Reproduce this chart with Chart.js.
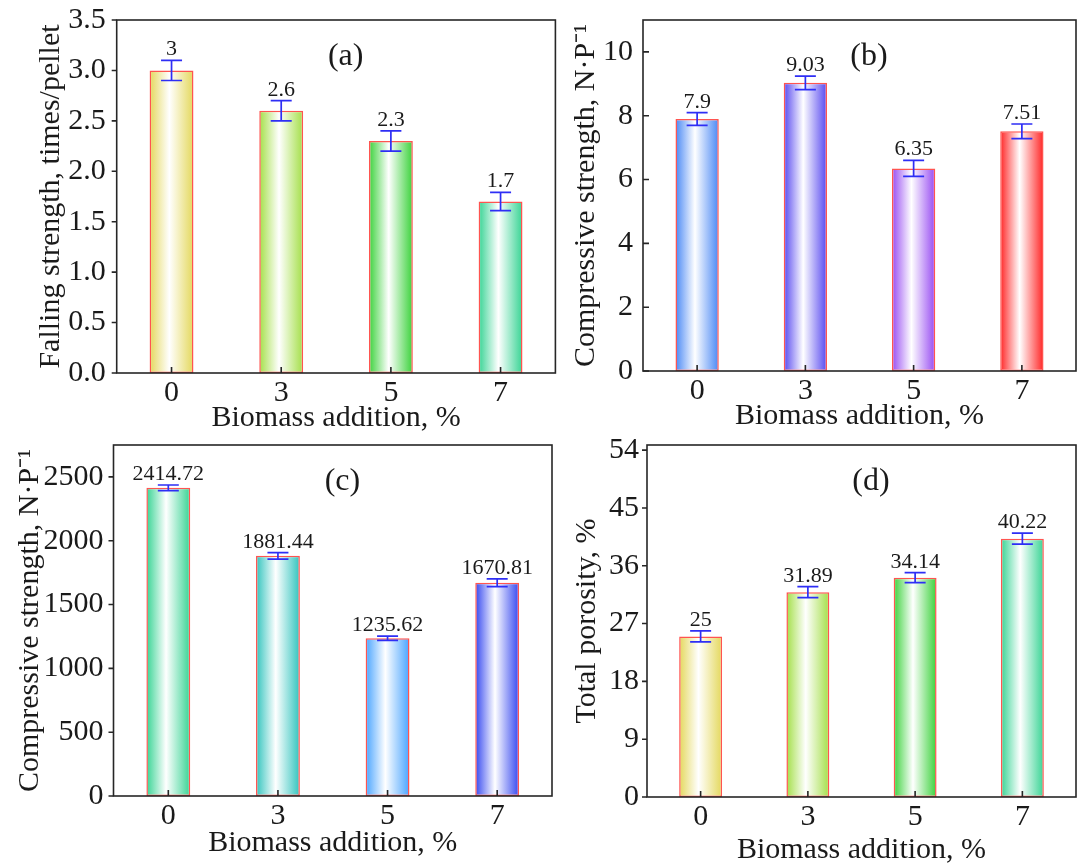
<!DOCTYPE html>
<html>
<head>
<meta charset="utf-8">
<script src="https://cdn.jsdelivr.net/npm/chart.js@4"></script>
<style>
  html, body { margin: 0; padding: 0; background: #fff; overflow: hidden; }
  body { width: 1077px; height: 866px; position: relative; }
  canvas { position: absolute; }
</style>
</head>
<body>
<canvas id="chart-a" width="560" height="440" style="left:0;top:0;width:560px;height:440px"></canvas>
<canvas id="chart-b" width="537" height="440" style="left:540px;top:0;width:537px;height:440px"></canvas>
<canvas id="chart-c" width="560" height="436" style="left:0;top:430px;width:560px;height:436px"></canvas>
<canvas id="chart-d" width="537" height="440" style="left:540px;top:430px;width:537px;height:440px"></canvas>
<script>
// categories (biomass addition, %)
const categories = ['0', '3', '5', '7'];

// (a) falling strength
const fallingStrength = [3, 2.6, 2.3, 1.7];
const fallingErr = [0.1, 0.1, 0.1, 0.09];
const ticksA = [0, 0.5, 1.0, 1.5, 2.0, 2.5, 3.0, 3.5];

// (b) compressive strength, green pellets
const compressiveB = [7.9, 9.03, 6.35, 7.51];
const compressiveBErr = [0.2, 0.21, 0.25, 0.23];
const ticksB = [0, 2, 4, 6, 8, 10];

// (c) compressive strength, roasted pellets
const compressiveC = [2414.72, 1881.44, 1235.62, 1670.81];
const compressiveCErr = [22, 26, 17, 30];
const ticksC = [0, 500, 1000, 1500, 2000, 2500];

// (d) total porosity
const porosity = [25, 31.89, 34.14, 40.22];
const porosityErr = [0.85, 0.85, 0.78, 0.85];
const ticksD = [0, 9, 18, 27, 36, 45, 54];

const FONT = 'Liberation Serif';
const TEXT = '#1a1a1a';
const BAR_PCT = 0.4;

const barFill = (ctx, color) => {
  if (ctx.type !== 'data') return color;
  const chart = ctx.chart;
  const xs = chart.scales.x;
  if (!chart.chartArea || !xs) return color;
  const cx = xs.getPixelForValue(ctx.dataIndex);
  const half = xs.width / categories.length * BAR_PCT / 2;
  const g = chart.ctx.createLinearGradient(cx - half, 0, cx + half, 0);
  g.addColorStop(0, color);
  g.addColorStop(0.45, '#ffffff');
  g.addColorStop(1, color);
  return g;
};

// frame, tick marks, error bars, value labels, panel letter
const makeExtras = (cfg) => ({
  id: 'extras',
  afterDatasetsDraw(chart) {
    const { ctx, chartArea: a } = chart;
    const xs = chart.scales.x, ys = chart.scales.y;
    ctx.save();
    ctx.strokeStyle = '#262626';
    ctx.lineWidth = 1.6;
    ctx.strokeRect(a.left, a.top, a.right - a.left, a.bottom - a.top);

    // y ticks
    ctx.beginPath();
    cfg.ticks.forEach(v => {
      const y = ys.getPixelForValue(v);
      if (cfg.yTickIn) { ctx.moveTo(a.left, y); ctx.lineTo(a.left + 6, y); }
      else { ctx.moveTo(a.left, y); ctx.lineTo(a.left - 5, y); }
    });
    // x ticks (inward)
    categories.forEach((c, i) => {
      const x = xs.getPixelForValue(i);
      ctx.moveTo(x, a.bottom);
      ctx.lineTo(x, a.bottom - 6);
    });
    ctx.stroke();

    // error bars
    ctx.strokeStyle = '#2e2ef5';
    ctx.lineWidth = 1.7;
    cfg.values.forEach((v, i) => {
      const x = xs.getPixelForValue(i);
      const y1 = ys.getPixelForValue(v - cfg.err[i]);
      const y2 = ys.getPixelForValue(v + cfg.err[i]);
      ctx.beginPath();
      ctx.moveTo(x, y1); ctx.lineTo(x, y2);
      ctx.moveTo(x - 10.5, y1); ctx.lineTo(x + 10.5, y1);
      ctx.moveTo(x - 10.5, y2); ctx.lineTo(x + 10.5, y2);
      ctx.stroke();
    });

    // value labels
    ctx.fillStyle = TEXT;
    ctx.font = '22px "' + FONT + '"';
    ctx.textAlign = 'center';
    ctx.textBaseline = 'alphabetic';
    cfg.values.forEach((v, i) => {
      const x = xs.getPixelForValue(i);
      const y = ys.getPixelForValue(v + cfg.err[i]) - 5;
      ctx.fillText(String(v), x, y);
    });

    // panel letter
    ctx.font = '32px "' + FONT + '"';
    ctx.textBaseline = 'middle';
    ctx.fillText(cfg.letter, a.left + (a.right - a.left) * 0.522, a.top + 37);
    ctx.restore();
  }
});

const makePanel = (id, cfg) => {
  const font = { family: FONT, size: 30 };
  new Chart(document.getElementById(id), {
    type: 'bar',
    data: {
      labels: categories,
      datasets: [{
        data: cfg.values,
        backgroundColor: ctx => barFill(ctx, cfg.colors[ctx.dataIndex]),
        borderColor: '#ff5450',
        borderWidth: 1.5,
        borderSkipped: false,
        barPercentage: BAR_PCT,
        categoryPercentage: 1
      }]
    },
    options: {
      responsive: false,
      animation: false,
      events: [],
      layout: { padding: cfg.pad },
      plugins: { legend: { display: false }, tooltip: { enabled: false } },
      scales: {
        x: {
          grid: { display: false, drawTicks: false },
          border: { display: false },
          ticks: { font, color: TEXT, padding: 2 },
          title: { display: true, text: 'Biomass addition, %', font, color: TEXT, padding: { top: 0, bottom: cfg.xTitlePad } },
          afterFit: s => { s.height = cfg.xh; s.paddingLeft = 0; s.paddingRight = 0; }
        },
        y: {
          min: 0,
          max: cfg.max,
          grid: { display: false, drawTicks: false },
          border: { display: false },
          afterBuildTicks: s => { s.ticks = cfg.ticks.map(v => ({ value: v })); },
          ticks: { font, color: TEXT, padding: cfg.yTickPad, callback: cfg.fmt },
          title: { display: true, text: cfg.yTitle, font, color: TEXT, padding: { top: cfg.yTitlePad, bottom: 0 } },
          afterFit: s => { s.width = cfg.yw; s.paddingTop = 0; s.paddingBottom = 0; }
        }
      }
    },
    plugins: [makeExtras(cfg)]
  });
};

makePanel('chart-a', {
  values: fallingStrength, err: fallingErr, ticks: ticksA, max: 3.5,
  fmt: v => Number(v).toFixed(1),
  colors: ['#e4d85c', '#a4df48', '#3bd23b', '#38d494'],
  yTitle: 'Falling strength, times/pellet', letter: '(a)',
  pad: { left: 0, top: 20, right: 4.6, bottom: 0 },
  yw: 116.7, xh: 67, yTitlePad: 33.6, xTitlePad: 4, yTickPad: 11, yTickIn: false
});

makePanel('chart-b', {
  values: compressiveB, err: compressiveBErr, ticks: ticksB, max: 11,
  fmt: v => String(v),
  colors: ['#4a88f5', '#5748f0', '#984cf2', '#ff2626'],
  yTitle: 'Compressive strength, N·P⁻¹', letter: '(b)',
  pad: { left: 0, top: 20, right: 1, bottom: 0 },
  yw: 103, xh: 69, yTitlePad: 28, xTitlePad: 6, yTickPad: 10, yTickIn: true
});

makePanel('chart-c', {
  values: compressiveC, err: compressiveCErr, ticks: ticksC, max: 2750,
  fmt: v => String(v),
  colors: ['#38d494', '#32c4be', '#4aa4ff', '#3648f0'],
  yTitle: 'Compressive strength, N·P⁻¹', letter: '(c)',
  pad: { left: 0, top: 15, right: 8, bottom: 0 },
  yw: 113.5, xh: 70, yTitlePad: 12, xTitlePad: 5, yTickPad: 10, yTickIn: false
});

makePanel('chart-d', {
  values: porosity, err: porosityErr, ticks: ticksD, max: 54.8,
  fmt: v => String(v),
  colors: ['#e4d85c', '#a4df48', '#3bd23b', '#38d494'],
  yTitle: 'Total porosity, %', letter: '(d)',
  pad: { left: 0, top: 15, right: 1, bottom: 0 },
  yw: 107, xh: 73, yTitlePad: 29, xTitlePad: 2, yTickPad: 8, yTickIn: false
});
</script>
</body>
</html>
